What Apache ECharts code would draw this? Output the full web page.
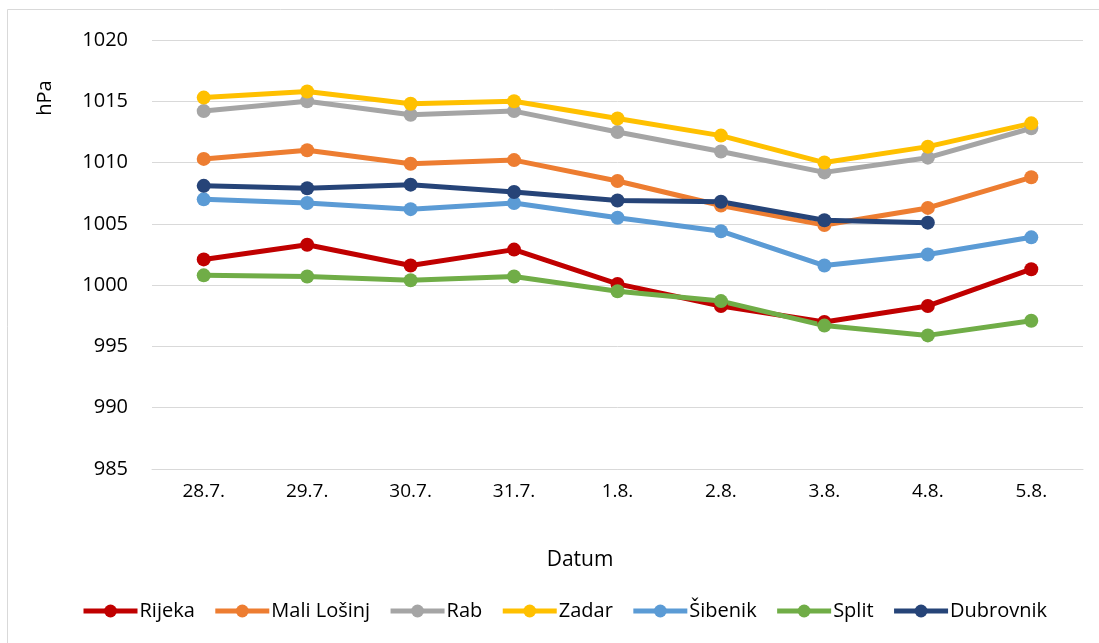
<!DOCTYPE html>
<html>
<head>
<meta charset="utf-8">
<script src="https://cdn.jsdelivr.net/npm/echarts@6/dist/echarts.min.js"></script>
<style>
html,body{margin:0;padding:0;background:#fff;}
#chart{width:1099px;height:643px;}
</style>
</head>
<body>
<div id="chart"></div>
<script>
const categories = ['28.7.', '29.7.', '30.7.', '31.7.', '1.8.', '2.8.', '3.8.', '4.8.', '5.8.'];
const rijeka     = [1002.1, 1003.3, 1001.6, 1002.9, 1000.1, 998.3, 997.0, 998.3, 1001.3];
const maliLosinj = [1010.3, 1011.0, 1009.9, 1010.2, 1008.5, 1006.5, 1004.9, 1006.3, 1008.8];
const rab        = [1014.2, 1015.0, 1013.9, 1014.2, 1012.5, 1010.9, 1009.2, 1010.4, 1012.8];
const zadar      = [1015.3, 1015.8, 1014.8, 1015.0, 1013.6, 1012.2, 1010.0, 1011.3, 1013.2];
const sibenik    = [1007.0, 1006.7, 1006.2, 1006.7, 1005.5, 1004.4, 1001.6, 1002.5, 1003.9];
const split      = [1000.8, 1000.7, 1000.4, 1000.7, 999.5, 998.7, 996.7, 995.9, 997.1];
const dubrovnik  = [1008.1, 1007.9, 1008.2, 1007.6, 1006.9, 1006.8, 1005.3, 1005.1, null];

const seriesNames = ['Rijeka', 'Mali Lošinj', 'Rab', 'Zadar', 'Šibenik', 'Split', 'Dubrovnik'];
const seriesData = [rijeka, maliLosinj, rab, zadar, sibenik, split, dubrovnik];
const colors = ['#C00000', '#ED7D31', '#A5A5A5', '#FFC000', '#5B9BD5', '#70AD47', '#264478'];

const FONT = 'Open Sans';
const chart = echarts.init(document.getElementById('chart'), null, {renderer: 'canvas'});

chart.setOption({
  animation: false,
  backgroundColor: '#fff',
  color: colors,
  textStyle: {fontFamily: FONT},
  grid: {left: 152, right: 16, top: 40, bottom: 174, containLabel: false},
  xAxis: {
    type: 'category',
    data: categories,
    boundaryGap: true,
    axisLine: {show: true, lineStyle: {color: '#D9D9D9', width: 1}},
    axisTick: {show: false},
    axisLabel: {color: '#000', fontSize: 19, fontFamily: FONT, margin: 13}
  },
  yAxis: {
    type: 'value',
    min: 985,
    max: 1020,
    interval: 5,
    axisLine: {show: false},
    axisTick: {show: false},
    splitLine: {lineStyle: {color: '#D9D9D9', width: 1}},
    axisLabel: {color: '#000', fontSize: 20, fontFamily: FONT, margin: 24, formatter: v => String(v)}
  },
  legend: {
    left: 76,
    top: 596,
    itemWidth: 54,
    itemHeight: 16,
    itemGap: 18,
    lineStyle: {width: 5},
    textStyle: {color: '#000', fontSize: 20, fontFamily: FONT, padding: [0, 0, 0, -3]},
    data: seriesNames
  },
  graphic: [
    {type: 'rect', shape: {x: 7.5, y: 9.5, width: 1200, height: 800}, style: {fill: 'none', stroke: '#D9D9D9', lineWidth: 1}, z: -10},
    {type: 'text', x: 45, y: 98, rotation: Math.PI / 2, style: {text: 'hPa', fill: '#000', font: '20px "Open Sans"', align: 'center', verticalAlign: 'middle'}},
    {type: 'text', x: 580, y: 560, style: {text: 'Datum', fill: '#000', font: '21px "Open Sans"', align: 'center', verticalAlign: 'middle'}}
  ],
  series: seriesNames.map((name, i) => ({
    name: name,
    type: 'line',
    data: seriesData[i],
    symbol: 'circle',
    symbolSize: 14,
    showSymbol: true,
    connectNulls: false,
    lineStyle: {width: 5, color: colors[i]},
    itemStyle: {color: colors[i]}
  }))
});
</script>
</body>
</html>
